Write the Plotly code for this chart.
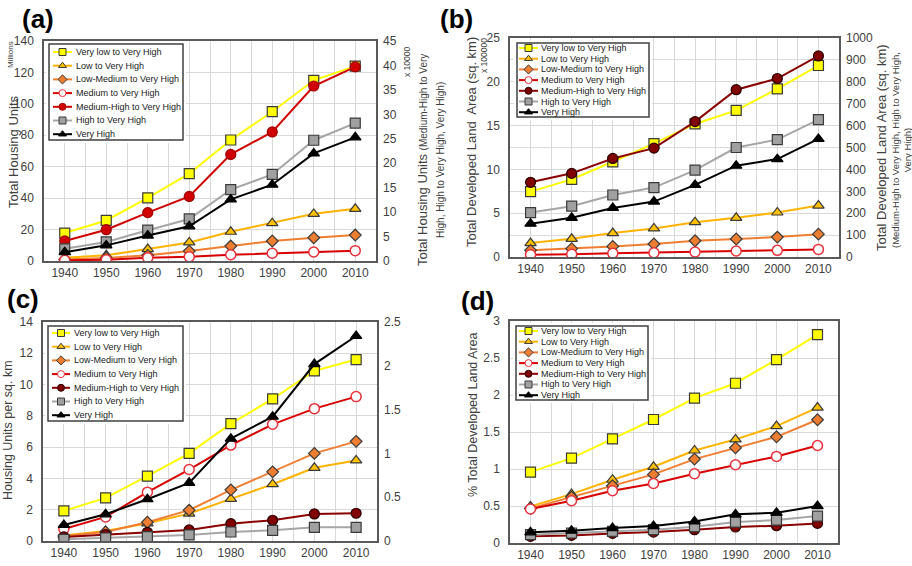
import plotly.graph_objects as go

W, H = 912, 566
def px(x): return x / W
def py(y): return 1 - y / H

years = [1940, 1950, 1960, 1970, 1980, 1990, 2000, 2010]
names = ["Very low to Very High", "Low to Very High", "Low-Medium to Very High",
         "Medium to Very High", "Medium-High to Very High", "High to Very High", "Very High"]

# (a) Total housing units: first four in millions, last three in x 10000
a_very_low = [17.8, 25.8, 40.2, 55.6, 77.0, 95.0, 115.0, 124.0]
a_low = [2.1, 3.6, 7.6, 11.8, 18.6, 24.1, 30.0, 33.2]
a_low_med = [1.0, 1.9, 3.6, 6.3, 9.5, 12.7, 14.8, 16.5]
a_medium = [0.4, 0.85, 2.1, 2.7, 4.0, 4.9, 5.7, 6.6]
a_med_high = [4.1, 6.4, 9.9, 13.2, 21.8, 26.4, 35.8, 39.7]
a_high = [2.5, 3.9, 6.3, 8.6, 14.6, 17.7, 24.7, 28.2]
a_very_high = [1.8, 3.2, 5.2, 7.1, 12.6, 15.6, 22.0, 25.3]

# (b) Total developed land area: first four x 100000 sq km, last three sq km
b_very_low = [7.46, 8.86, 10.87, 12.95, 15.19, 16.74, 19.2, 21.86]
b_low = [1.59, 2.08, 2.73, 3.26, 3.98, 4.47, 5.08, 5.87]
b_low_med = [0.76, 0.95, 1.21, 1.48, 1.86, 2.05, 2.27, 2.61]
b_medium = [0.27, 0.30, 0.42, 0.49, 0.57, 0.68, 0.76, 0.87]
b_med_high = [341, 382, 450, 497, 618, 764, 815, 918]
b_high = [203, 232, 283, 317, 397, 500, 536, 627]
b_very_high = [152, 179, 224, 253, 329, 417, 447, 539]

# (c) Housing units per sq km: first four left axis, last three right axis
c_very_low = [1.92, 2.76, 4.15, 5.6, 7.5, 9.08, 10.88, 11.6]
c_low = [0.36, 0.64, 1.13, 1.75, 2.69, 3.63, 4.68, 5.15]
c_low_med = [0.32, 0.58, 1.2, 1.97, 3.27, 4.42, 5.6, 6.37]
c_medium = [0.77, 1.54, 3.12, 4.57, 6.13, 7.46, 8.46, 9.23]
c_med_high = [0.046, 0.073, 0.099, 0.126, 0.198, 0.237, 0.309, 0.317]
c_high = [0.019, 0.034, 0.05, 0.069, 0.103, 0.122, 0.156, 0.156]
c_very_high = [0.183, 0.305, 0.477, 0.664, 1.168, 1.42, 2.02, 2.34]

# (d) % total developed land area
d_very_low = [0.958, 1.147, 1.408, 1.669, 1.957, 2.159, 2.479, 2.816]
d_low = [0.495, 0.661, 0.855, 1.03, 1.25, 1.40, 1.58, 1.83]
d_low_med = [0.468, 0.62, 0.774, 0.927, 1.134, 1.287, 1.435, 1.665]
d_medium = [0.459, 0.571, 0.706, 0.805, 0.936, 1.057, 1.17, 1.318]
d_med_high = [0.09, 0.103, 0.13, 0.148, 0.18, 0.216, 0.234, 0.265]
d_high = [0.112, 0.135, 0.157, 0.18, 0.22, 0.283, 0.31, 0.364]
d_very_high = [0.144, 0.166, 0.202, 0.229, 0.292, 0.387, 0.409, 0.499]

# styles
EDGE = "#3a3a3a"
def styles(medhigh_red):
    mh = (dict(line="#D00000", fill="#D00000", edge="#A00000") if medhigh_red
          else dict(line="#8B0000", fill="#800000", edge="#2a0000"))
    return [
        dict(line="#FFFF00", symbol="square", fill="#FFFF00", edge=EDGE, size=10),
        dict(line="#FFB300", symbol="triangle-up", fill="#FFC000", edge=EDGE, size=10),
        dict(line="#F07E32", symbol="diamond", fill="#ED7D31", edge=EDGE, size=9),
        dict(line="#D80000", symbol="circle-open", fill="#FFFFFF", edge="#E8303A", size=10),
        dict(line=mh["line"], symbol="circle", fill=mh["fill"], edge=mh["edge"], size=10),
        dict(line="#A6A6A6", symbol="square", fill="#A0A0A0", edge=EDGE, size=10),
        dict(line="#000000", symbol="triangle-up", fill="#000000", edge="#000000", size=10),
    ]

FONT = "Liberation Sans, Arial, sans-serif"
TXT = "#404040"

fig = go.Figure()

panels = [
    dict(key="a", x="x", yl="y", yr="y5",
         data=[a_very_low, a_low, a_low_med, a_medium, a_med_high, a_high, a_very_high],
         right=[False, False, False, False, True, True, True], red=True),
    dict(key="b", x="x2", yl="y2", yr="y6",
         data=[b_very_low, b_low, b_low_med, b_medium, b_med_high, b_high, b_very_high],
         right=[False, False, False, False, True, True, True], red=False),
    dict(key="c", x="x3", yl="y3", yr="y7",
         data=[c_very_low, c_low, c_low_med, c_medium, c_med_high, c_high, c_very_high],
         right=[False, False, False, False, True, True, True], red=False),
    dict(key="d", x="x4", yl="y4", yr=None,
         data=[d_very_low, d_low, d_low_med, d_medium, d_med_high, d_high, d_very_high],
         right=[False] * 7, red=False),
]

for p in panels:
    st = styles(p["red"])
    for i, vals in enumerate(p["data"]):
        s = st[i]
        yref = p["yr"] if p["right"][i] else p["yl"]
        open_c = s["symbol"] == "circle-open"
        fig.add_trace(go.Scatter(
            x=years, y=vals, xaxis=p["x"], yaxis=yref, mode="lines+markers",
            name=names[i], showlegend=False,
            line=dict(color=s["line"], width=2),
            marker=dict(symbol="circle" if open_c else s["symbol"], size=s["size"],
                        color=s["fill"], line=dict(color=s["edge"], width=1.5 if open_c else 1.2)),
        ))

doms = {
    "a": ([44, 376], [41, 261]),
    "b": ([510, 839], [38, 257]),
    "c": ([43, 377], [322, 541]),
    "d": ([510, 838], [321, 543]),
}
GRID = "#D9D9D9"
FRAME = "#595959"
layout = dict(width=W, height=H, margin=dict(l=0, r=0, t=0, b=0, autoexpand=False),
              paper_bgcolor="white", plot_bgcolor="white",
              font=dict(family=FONT, color=TXT, size=12), showlegend=False)

def xax(dom, anchor):
    return dict(domain=[px(dom[0]), px(dom[1])], anchor=anchor, range=[1935, 2015],
                tickmode="array", tickvals=years, ticktext=[str(y) for y in years],
                showgrid=True, gridcolor=GRID, gridwidth=1,
                minor=dict(tickmode="linear", tick0=1935, dtick=5, showgrid=True, gridcolor=GRID, gridwidth=1),
                showline=True, mirror=True, linecolor=FRAME, linewidth=1.5,
                ticks="", tickfont=dict(size=12, color=TXT), zeroline=False, fixedrange=True,
                automargin=False)

def yax(dom, anchor, rng, dtick, minor=None, grid=True):
    d = dict(domain=[py(dom[1]), py(dom[0])], anchor=anchor, range=rng, dtick=dtick, tick0=0,
             showgrid=grid, gridcolor=GRID, gridwidth=1,
             showline=True, mirror=True, linecolor=FRAME, linewidth=1.5,
             ticks="", tickfont=dict(size=12, color=TXT), zeroline=False,
             ticklabelstandoff=6, fixedrange=True, automargin=False)
    if minor:
        d["minor"] = dict(tickmode="linear", tick0=0, dtick=minor, showgrid=True, gridcolor=GRID, gridwidth=1)
    return d

def yax_r(overlay, rng, dtick):
    return dict(overlaying=overlay, side="right", anchor=overlay.replace("y", "x"), range=rng,
                dtick=dtick, tick0=0, showgrid=False, showline=False, ticks="", zeroline=False,
                tickfont=dict(size=12, color=TXT), ticklabelstandoff=6, fixedrange=True,
                automargin=False)

layout["xaxis"] = xax(doms["a"][0], "y")
layout["yaxis"] = yax(doms["a"][1], "x", [0, 140], 20)
layout["yaxis5"] = dict(yax_r("y", [0, 45], 5), anchor="x")
layout["xaxis2"] = xax(doms["b"][0], "y2")
layout["yaxis2"] = yax(doms["b"][1], "x2", [0, 25], 5, minor=2.5)
layout["yaxis6"] = dict(yax_r("y2", [0, 1000], 100), anchor="x2")
layout["xaxis3"] = xax(doms["c"][0], "y3")
layout["yaxis3"] = yax(doms["c"][1], "x3", [0, 14], 2)
layout["yaxis7"] = dict(yax_r("y3", [0, 2.5], 0.5), anchor="x3")
layout["xaxis4"] = xax(doms["d"][0], "y4")
layout["yaxis4"] = yax(doms["d"][1], "x4", [0, 3], 0.5)

# custom compact legends (one per panel), drawn on helper axes in pixel units
legends = [
    dict(box=(49, 44, 183, 140), row0=52, gap=13.7, lx=(53, 72), tx=74, fs=9, red=True),
    dict(box=(517, 43, 649, 117), row0=48, gap=10.7, lx=(519, 538), tx=539, fs=9, red=False),
    dict(box=(48, 326, 183, 421), row0=333, gap=13.7, lx=(52, 70), tx=72, fs=9, red=False),
    dict(box=(516, 326, 648, 400), row0=331, gap=10.7, lx=(519, 538), tx=539, fs=9, red=False),
]
shapes = []
annotations = []
for k, lg in enumerate(legends):
    xi, yi = 5 + k, 8 + k
    xn, yn = f"x{xi}", f"y{yi}"
    x0, y0, x1, y1 = lg["box"]
    pad = 3
    layout[f"xaxis{xi}"] = dict(domain=[px(x0 - pad), px(x1 + pad)], range=[x0 - pad, x1 + pad],
                                anchor=yn, visible=False, fixedrange=True, automargin=False)
    layout[f"yaxis{yi}"] = dict(domain=[py(y1 + pad), py(y0 - pad)], range=[y1 + pad, y0 - pad],
                                anchor=xn, visible=False, fixedrange=True, automargin=False)
    shapes.append(dict(type="rect", xref=xn, yref=yn, x0=x0, x1=x1, y0=y0, y1=y1,
                       fillcolor="white", line=dict(color="#404040", width=1.5), layer="below"))
    st = styles(lg["red"])
    for i, nm in enumerate(names):
        s = st[i]
        ry = lg["row0"] + i * lg["gap"]
        open_c = s["symbol"] == "circle-open"
        fig.add_trace(go.Scatter(x=[lg["lx"][0], lg["lx"][1]], y=[ry, ry], xaxis=xn, yaxis=yn,
                                 mode="lines", line=dict(color=s["line"], width=2),
                                 hoverinfo="skip", showlegend=False))
        fig.add_trace(go.Scatter(x=[(lg["lx"][0] + lg["lx"][1]) / 2], y=[ry], xaxis=xn, yaxis=yn,
                                 mode="markers", hoverinfo="skip", showlegend=False,
                                 marker=dict(symbol="circle" if open_c else s["symbol"], size=7,
                                             color=s["fill"], line=dict(color=s["edge"], width=1))))
        annotations.append(dict(xref=xn, yref=yn, x=lg["tx"], y=ry, text=nm, showarrow=False,
                                xanchor="left", yanchor="middle",
                                font=dict(size=lg["fs"], color="#1a1a1a", family=FONT)))

def ann(x, y, text, size, angle=0, color=TXT):
    annotations.append(dict(xref="paper", yref="paper", x=px(x), y=py(y), text=text,
                            showarrow=False, textangle=angle, xanchor="center", yanchor="middle",
                            font=dict(size=size, color=color, family=FONT)))

# panel labels
for lbl, (cx, cy) in {"(a)": (38, 19), "(b)": (456, 19), "(c)": (23, 299), "(d)": (477, 301)}.items():
    ann(cx, cy, f"<b>{lbl}</b>", 26, color="#000000")

# axis titles
ann(13, 152, "Total Housing Units", 13, -90)
ann(10, 55, "Millions", 8, -90)
ann(407, 62, "x 10000", 8.5, -90)
ann(430, 160, "Total Housing Units <span style='font-size:10px'>(Medium-High to Very</span><br>"
              "<span style='font-size:10px'>High, High to Very High, Very High)</span>", 13, -90)

ann(471, 142, "Total Developed Land  Area (sq. km)", 13, -90)
ann(484, 56, "x 100000", 8.5, -90)
ann(881, 148, "Total Developed Land Area (sq. km)", 13, -90)
ann(901, 150, "(Medium-High to Very High, High to Very High,<br>Very High)", 9.5, -90)

ann(8, 430, "Housing Units per sq. km", 12.5, -90)
ann(473, 415, "% Total Developed Land Area", 12.5, -90)

layout["shapes"] = shapes
layout["annotations"] = annotations
fig.update_layout(**layout)
fig.write_html("out.html", config={"displayModeBar": False},
               post_script="document.body.style.margin='0';document.body.style.overflow='hidden';")
